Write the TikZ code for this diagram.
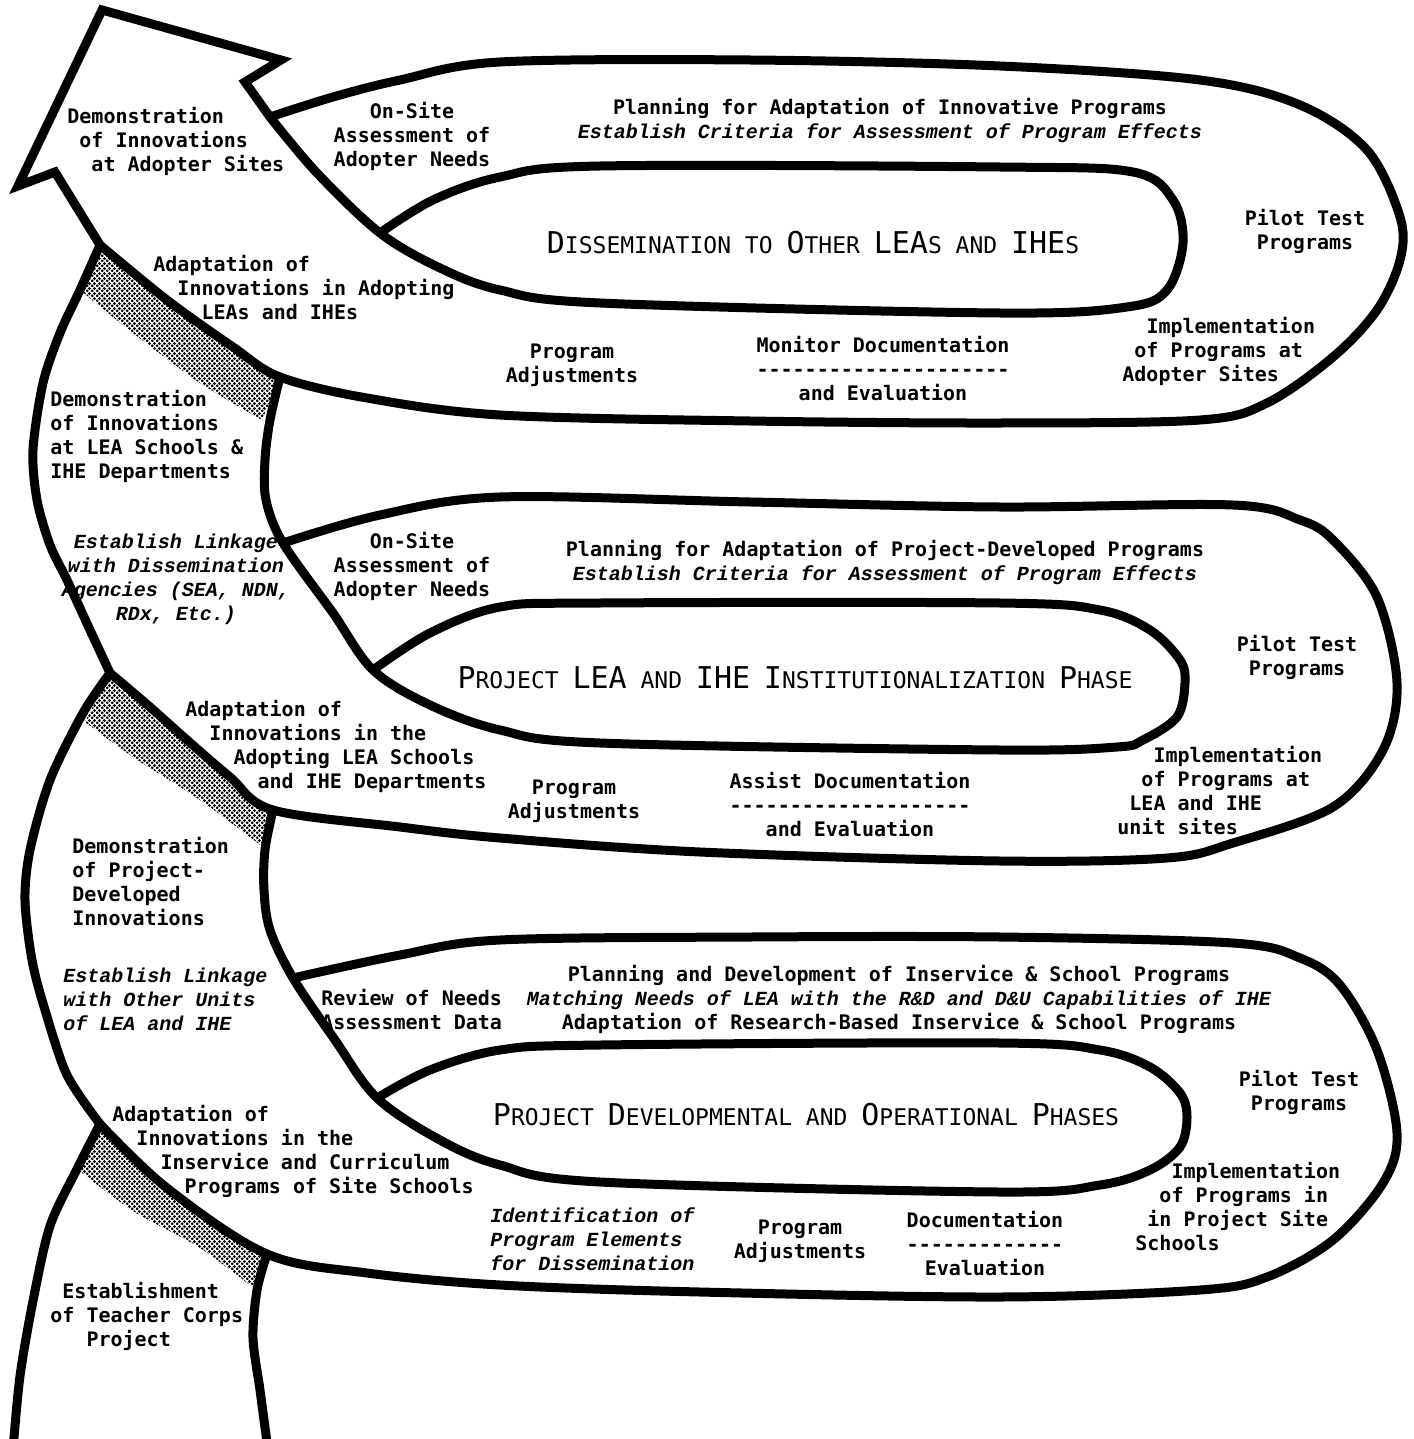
\documentclass[tikz,border=0pt]{standalone}
\usepackage{fontspec}
\usetikzlibrary{patterns}
\newfontfamily\tw{DejaVu Sans Mono}[Ligatures=TeXOff]
\newfontfamily\twit{Liberation Mono}[Ligatures=TeXOff]
\newcommand\indch[1]{\hspace*{#1\fontcharwd\font`\x}}
\newcommand\hbig[1]{{\fontsize{15}{15}\selectfont #1}}

% checkered dots for the twisted parts of the ribbon
\pgfdeclarepatternformonly{twistdots}{\pgfpointorigin}{\pgfpoint{2.4pt}{2.4pt}}{\pgfpoint{2.4pt}{2.4pt}}{%
  \pgfpathcircle{\pgfpoint{0.6pt}{0.6pt}}{0.8pt}%
  \pgfpathcircle{\pgfpoint{1.8pt}{1.8pt}}{0.8pt}%
  \pgfusepath{fill}}

\tikzset{
  band/.style={line width=4.5pt, line join=round, line cap=round},
  shade/.style={pattern=twistdots, pattern color=black},
  txt/.style={font=\tw\bfseries\fontsize{10}{12}\selectfont, inner sep=0pt},
  txtit/.style={font=\twit\bfseries\itshape\fontsize{10}{12}\selectfont, inner sep=0pt},
  head/.style={font=\tw\fontsize{11.5}{14}\selectfont, inner sep=0pt},
}

\begin{document}
\begin{tikzpicture}[x=0.5pt, y=-0.5pt]
\useasboundingbox (0,0) rectangle (1413,1439);

% shaded twists of the ribbon
\fill[shade] plot[smooth] coordinates {(100,245) (167,300) (233,347) (280,377)} -- (262,420)
  -- plot[smooth] coordinates {(262,420) (200,383) (133,333) (80,290)} -- cycle;
\fill[shade] plot[smooth] coordinates {(110,673) (150,707) (187,740) (230,777) (273,810)} -- (263,847)
  -- plot[smooth] coordinates {(263,847) (200,800) (133,757) (85,722)} -- cycle;
\fill[shade] plot[smooth] coordinates {(100,1124) (167,1188) (267,1254)} -- (260,1293)
  -- plot[smooth] coordinates {(260,1293) (200,1248) (133,1211) (77,1169)} -- cycle;

% arrow head
\draw[band, line join=miter, line cap=butt] (270,117) -- (245,82) -- (281,60) -- (102,10) -- (18,186) -- (55,172) -- (100,245);

% top loop
\draw[band] plot[smooth, tension=0.55] coordinates {(100,245) (167,300) (233,347) (280,377) (367,398) (500,415) (750,421) (1000,423) (1200,420) (1267,403) (1333,357) (1377,310) (1400,260) (1400,217) (1367,150) (1300,105) (1200,80) (1000,66) (750,60) (500,62) (400,80) (333,97) (270,117)};
\draw[band] plot[smooth, tension=0.55] coordinates {(270,117) (317,173) (380,233) (440,268) (500,290) (600,303) (1000,313) (1127,307) (1167,290) (1183,243) (1173,200) (1133,172) (1000,167) (600,166) (500,177) (433,200) (380,233)};

% middle loop
\draw[band] plot[smooth] coordinates {(100,245) (80,290) (60,333) (43,383) (33,450) (37,500) (50,545) (67,580) (90,630) (110,673)};
\draw[band] plot[smooth, tension=0.55] coordinates {(280,377) (270,420) (265,460) (266,500) (283,543) (333,613) (373,670) (430,705) (500,730) (600,743) (1000,750) (1117,747) (1143,740) (1177,717) (1185,683) (1180,660) (1150,630) (1100,610) (1000,603) (600,603) (500,607) (430,633) (373,670)};
\draw[band] plot[smooth, tension=0.55] coordinates {(283,543) (380,515) (500,497) (750,502) (1000,507) (1233,505) (1300,520) (1333,540) (1377,597) (1397,683) (1383,750) (1333,807) (1233,843) (1167,858) (1000,861) (700,852) (500,838) (400,827) (273,810) (230,777) (187,740) (150,707) (110,673)};

% bottom loop
\draw[band] plot[smooth] coordinates {(110,673) (83,713) (50,780) (30,850) (25,900) (32,960) (45,1010) (67,1075) (100,1124)};
\draw[band] plot[smooth, tension=0.55] coordinates {(273,810) (265,850) (264,890) (270,930) (293,978) (335,1040) (377,1098) (440,1140) (500,1165) (600,1182) (1000,1192) (1100,1185) (1150,1170) (1180,1147) (1187,1117) (1180,1093) (1150,1067) (1100,1050) (1000,1043) (600,1045) (500,1050) (430,1070) (377,1098)};
\draw[band] plot[smooth, tension=0.55] coordinates {(293,978) (400,955) (500,940) (750,937) (1000,937) (1233,943) (1300,958) (1340,985) (1377,1050) (1397,1133) (1383,1183) (1333,1240) (1267,1277) (1200,1290) (1000,1297) (700,1292) (500,1285) (367,1273) (267,1254) (167,1188) (100,1124)};

% start of the ribbon
\draw[band] plot[smooth] coordinates {(100,1124) (77,1169) (50,1226) (33,1301) (20,1376) (13,1450)};
\draw[band] plot[smooth] coordinates {(267,1254) (257,1290) (253,1338) (260,1390) (268,1450)};

% top section texts
\node[txt, anchor=north west, align=left] (demoA) at (67,107) {Demonstration\\\indch{1}of Innovations\\\indch{2}at Adopter Sites};
\node[txt, anchor=north, align=center] (siteA) at (412,102) {On-Site\\Assessment of\\Adopter Needs};
\node[txt, anchor=north, align=center] (planA) at (890,98) {Planning for Adaptation of Innovative Programs\\{\twit\itshape Establish Criteria for Assessment of Program Effects}};
\node[head] (headA) at (813,243) {\hbig{D}ISSEMINATION TO \hbig{O}THER \hbig{LEA}S AND \hbig{IHE}S};
\node[txt, anchor=north, align=center] (pilotA) at (1305,209) {Pilot Test\\Programs};
\node[txt, anchor=north west, align=left] (adaptA) at (153,255) {Adaptation of\\\indch{2}Innovations in Adopting\\\indch{4}LEAs and IHEs};
\node[txt, anchor=north, align=center] (adjA) at (572,344) {Program\\Adjustments};
\node[txt, anchor=north, align=center] (monA) at (883,336) {Monitor Documentation\\---------------------\\and Evaluation};
\node[txt, anchor=north west, align=left] (implA) at (1122,317) {\indch{2}Implementation\\\indch{1}of Programs at\\Adopter Sites};

% middle section texts
\node[txt, anchor=north west, align=left] (demoB) at (50,390) {Demonstration\\of Innovations\\at LEA Schools \&\\IHE Departments};
\node[txtit, anchor=north, align=center] (linkB) at (176,534) {Establish Linkage\\with Dissemination\\Agencies (SEA, NDN,\\RDx, Etc.)};
\node[txt, anchor=north, align=center] (siteB) at (412,532) {On-Site\\Assessment of\\Adopter Needs};
\node[txt, anchor=north, align=center] (planB) at (885,540) {Planning for Adaptation of Project-Developed Programs\\{\twit\itshape Establish Criteria for Assessment of Program Effects}};
\node[head] (headB) at (795,678) {\hbig{P}ROJECT \hbig{LEA} AND \hbig{IHE} \hbig{I}NSTITUTIONALIZATION \hbig{P}HASE};
\node[txt, anchor=north, align=center] (pilotB) at (1297,635) {Pilot Test\\Programs};
\node[txt, anchor=north west, align=left] (implB) at (1117,746) {\indch{3}Implementation\\\indch{2}of Programs at\\\indch{1}LEA and IHE\\unit sites};
\node[txt, anchor=north west, align=left] (adaptB) at (185,700) {Adaptation of\\\indch{2}Innovations in the\\\indch{4}Adopting LEA Schools\\\indch{6}and IHE Departments};
\node[txt, anchor=north, align=center] (adjB) at (574,780) {Program\\Adjustments};
\node[txt, anchor=north, align=center] (assistB) at (850,772) {Assist Documentation\\--------------------\\and Evaluation};

% bottom section texts
\node[txt, anchor=north west, align=left] (demoC) at (72,837) {Demonstration\\of Project-\\Developed\\Innovations};
\node[txtit, anchor=north west, align=left] (linkC) at (63,968) {Establish Linkage\\with Other Units\\of LEA and IHE};
\node[txt, anchor=north west, align=left] (reviewC) at (321,989) {Review of Needs\\Assessment Data};
\node[txt, anchor=north, align=center] (planC) at (899,965) {Planning and Development of Inservice \& School Programs\\{\twit\itshape Matching Needs of LEA with the R\&D and D\&U Capabilities of IHE}\\Adaptation of Research-Based Inservice \& School Programs};
\node[head] (headC) at (806,1115) {\hbig{P}ROJECT \hbig{D}EVELOPMENTAL AND \hbig{O}PERATIONAL \hbig{P}HASES};
\node[txt, anchor=north, align=center] (pilotC) at (1299,1070) {Pilot Test\\Programs};
\node[txt, anchor=north west, align=left] (implC) at (1135,1162) {\indch{3}Implementation\\\indch{2}of Programs in\\\indch{1}in Project Site\\Schools};
\node[txt, anchor=north west, align=left] (adaptC) at (112,1105) {Adaptation of\\\indch{2}Innovations in the\\\indch{4}Inservice and Curriculum\\\indch{6}Programs of Site Schools};
\node[txtit, anchor=north west, align=left] (identC) at (490,1207) {Identification of\\Program Elements\\for Dissemination};
\node[txt, anchor=north, align=center] (adjC) at (800,1220) {Program\\Adjustments};
\node[txt, anchor=north, align=center] (docC) at (985,1211) {Documentation\\-------------\\Evaluation};
\node[txt, anchor=north west, align=left] (estC) at (50,1282) {\indch{1}Establishment\\of Teacher Corps\\\indch{3}Project};

\end{tikzpicture}
\end{document}
